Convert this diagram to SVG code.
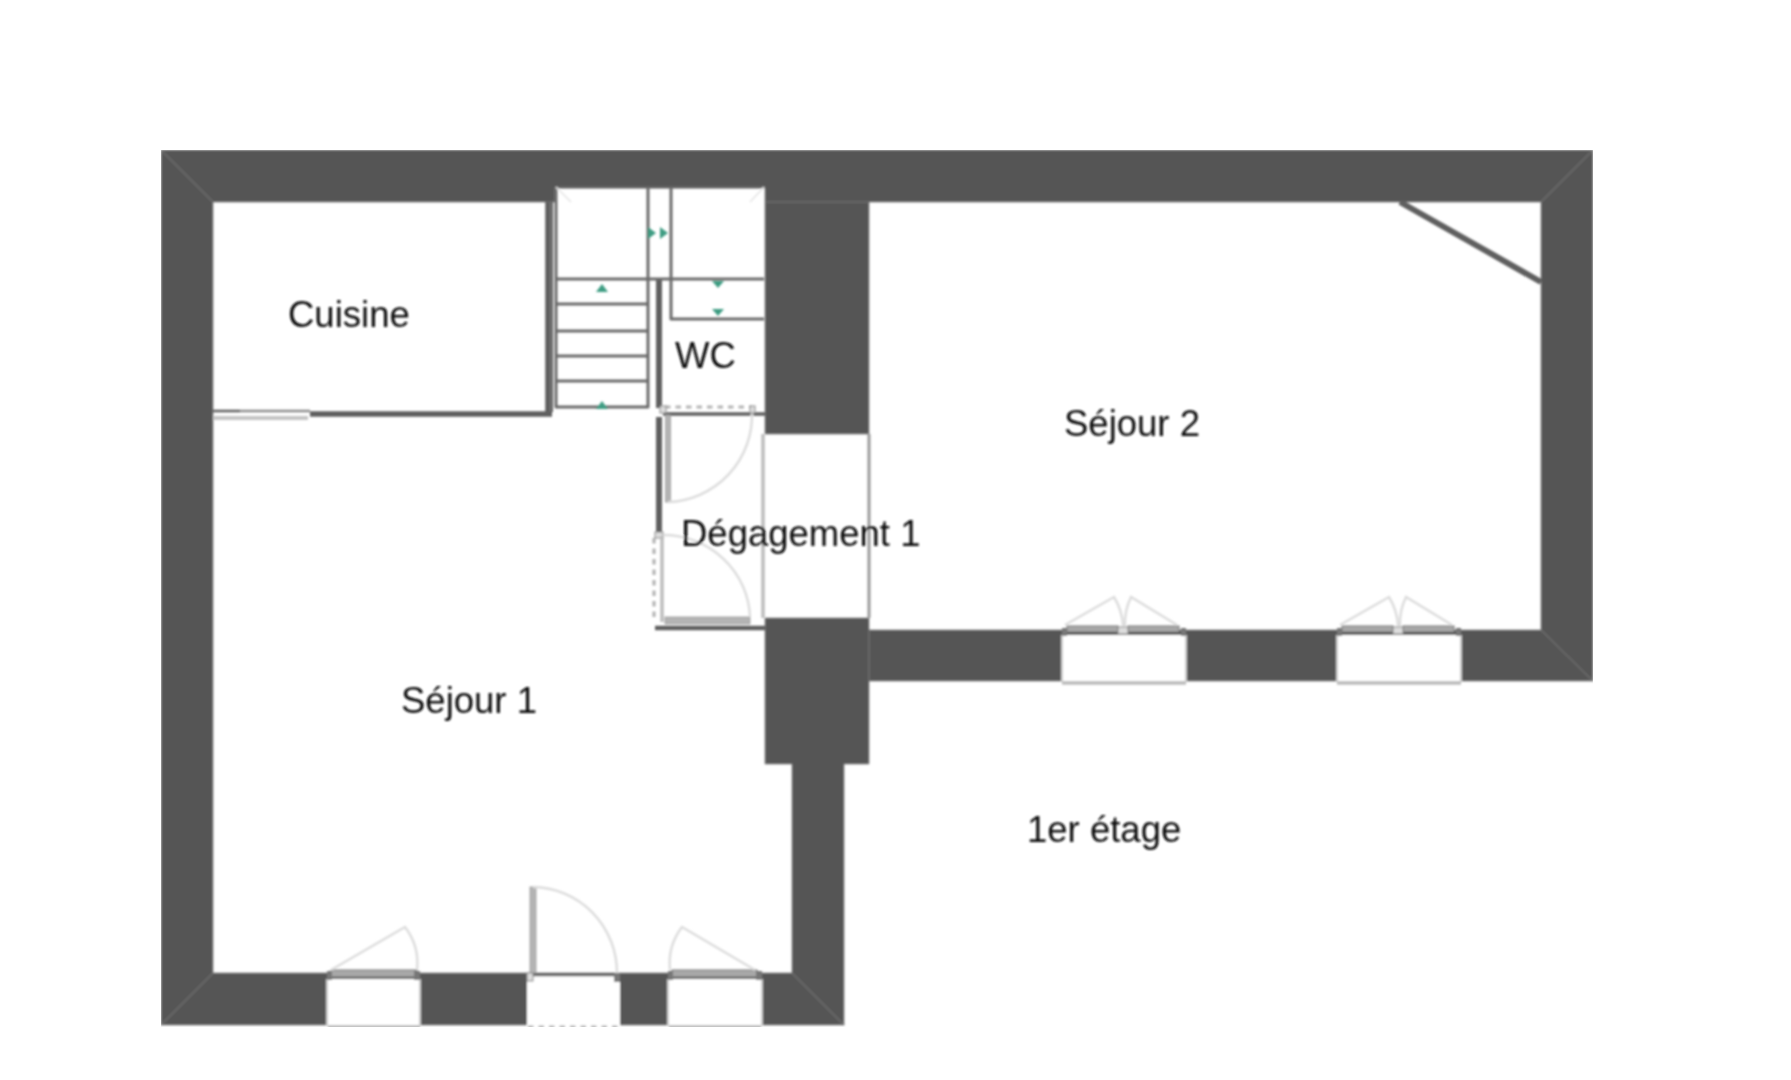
<svg xmlns="http://www.w3.org/2000/svg" width="1791" height="1080" viewBox="0 0 1791 1080">
<style>
text{font-family:"Liberation Sans",Arial,sans-serif;font-size:36.5px;fill:#111}
.wall{fill:#555;fill-rule:evenodd;stroke:#8a8a8a;stroke-width:.8}
.mit{stroke:#6c6c6c;stroke-width:1.6;fill:none}
.open{fill:#fff;stroke:none}
.sill{fill:#a8a8a8;stroke:#777;stroke-width:1}
.arc{fill:none;stroke:#dcdcdc;stroke-width:2.4}
.leaf{fill:#b4b4b4;stroke:#999;stroke-width:.8}
.lt{stroke:#bcbcbc;stroke-width:3.5;fill:none}
.dot{stroke:#b4b4b4;stroke-width:3.2;stroke-dasharray:5.5 5;fill:none}
.st{stroke:#6a6a6a;stroke-width:3;fill:none;stroke-linejoin:round}
.dk{stroke:#5e5e5e;fill:none}
.jt{fill:#ddd;stroke:#888;stroke-width:1}
.ar{fill:#3c9c82}
</style>
<defs><filter id="soft" x="0" y="0" width="100%" height="100%"><feGaussianBlur stdDeviation="0.8"/></filter></defs>
<rect width="1791" height="1080" fill="#fff"/>
<g filter="url(#soft)">
<g id="walls">
<path class="wall" d="M161 150H1593V681H869V764H844V1025H161ZM213 202V973H792V764H765V618H869V630H1541V202H869V434H765V187H555V202Z"/>
<path class="mit" d="M161 150L213 202M1593 150L1541 202M161 1025L213 973M1593 681L1541 630M844 1025L792 973M765 202H869M869 630V681"/>
</g>
<g id="partitions">
<path class="dk" stroke-width="5.5" d="M310 414H552M548 202V416"/>
<path class="dk" stroke-width="2.5" d="M213 411H240"/>
<path stroke="#8c8c8c" stroke-width="2.5" d="M240 411H310"/>
<path class="dk" stroke-width="2" d="M552 200V412"/>
<path stroke="#c4c4c4" stroke-width="4" d="M213 418H308"/>
<path class="dk" stroke-width="6" d="M659 279V408M659 417V533"/>
<path class="dk" stroke-width="3.5" d="M663 414H765"/>
<path class="dk" stroke-width="4.5" d="M655 628H765"/>
<path class="dk" stroke-width="3" d="M555 187H765" />
</g>
<g id="stairs">
<path class="st" d="M556 187V407H648V187M671 187V319H764M556 279H764M556 304H648M556 331H648M556 356H648M556 381H648"/>
<path stroke="#e4e4e4" stroke-width="1.5" d="M556 187L571 202M764 187L750 202"/>
<path class="ar" d="M648 227L656 233L648 239ZM660 227L668 233L660 239ZM596 292L602 284L608 292ZM596 409L602 401L608 409ZM712 281H724L718 288ZM712 309H724L718 316Z"/>
</g>
<g id="passage">
<path class="lt" d="M763 434V618"/>
<path stroke="#999" stroke-width="3" d="M869 434V618"/>
</g>
<g id="doors">
<path class="dot" d="M665 407H752M654 538V622"/>
<rect class="leaf" x="665.5" y="415" width="5" height="87"/>
<path class="arc" d="M668 502A87 87 0 0 0 752 412"/>
<rect class="jt" x="750" y="406" width="5" height="7"/>
<rect class="jt" x="660" y="406" width="6" height="7"/>
<rect class="jt" x="655" y="532" width="8" height="6"/>
<path class="lt" d="M662 536V622"/>
<rect class="leaf" x="665" y="617" width="85" height="7"/>
<path class="arc" d="M663 535A87 85 0 0 1 750 617"/>
<rect class="open" x="527" y="974" width="93" height="52"/>
<rect class="leaf" x="530" y="887" width="6" height="86"/>
<path class="arc" d="M533 887A85 86 0 0 1 617 973"/>
<path class="dk" stroke-width="2.5" d="M530 975H617"/>
<path class="dot" d="M528 1027H618"/>
<rect class="jt" x="527" y="973" width="6" height="8" fill="#777"/>
<rect x="614" y="973" width="6" height="9" fill="#777"/>
</g>
<g id="windows">
<g id="w1">
<rect class="open" x="327" y="979" width="93" height="46"/>
<path stroke="#c8c8c8" stroke-width="2" d="M327 979V1026M420 979V1026"/>
<path class="lt" d="M328 1027H420"/>
<rect class="sill" x="331" y="970" width="86" height="7"/>
<rect x="327" y="971" width="5" height="9" fill="#777"/><rect x="414" y="971" width="6" height="9" fill="#777"/>
<path class="arc" d="M331 970L405 927A60 60 0 0 1 417 970"/>
</g>
<g id="w2">
<rect class="open" x="668" y="979" width="94" height="46"/>
<path stroke="#c8c8c8" stroke-width="2" d="M668 979V1026M762 979V1026"/>
<path class="lt" d="M669 1027H761"/>
<rect class="sill" x="672" y="970" width="85" height="7"/>
<rect x="668" y="971" width="5" height="9" fill="#777"/><rect x="756" y="971" width="6" height="9" fill="#777"/>
<path class="arc" d="M755 970L682 927A60 60 0 0 0 670 970"/>
</g>
<g id="w3">
<rect class="open" x="1062" y="635" width="124" height="46"/>
<path stroke="#c8c8c8" stroke-width="2" d="M1062 635V682M1186 635V682"/>
<path class="lt" d="M1062 683H1186"/>
<rect class="sill" x="1067" y="626" width="51" height="6"/><rect class="sill" x="1128" y="626" width="51" height="6"/>
<rect class="jt" x="1118" y="627" width="10" height="7"/>
<rect x="1062" y="628" width="5" height="8" fill="#777"/><rect x="1181" y="628" width="5" height="8" fill="#777"/>
<path class="arc" d="M1065 625L1114 597A60 60 0 0 1 1123 626M1125 626A60 60 0 0 1 1131 597L1177 625"/>
</g>
<g id="w4">
<rect class="open" x="1337" y="635" width="124" height="46"/>
<path stroke="#c8c8c8" stroke-width="2" d="M1337 635V682M1461 635V682"/>
<path class="lt" d="M1337 683H1461"/>
<rect class="sill" x="1342" y="626" width="51" height="6"/><rect class="sill" x="1403" y="626" width="51" height="6"/>
<rect class="jt" x="1393" y="627" width="10" height="7"/>
<rect x="1337" y="628" width="5" height="8" fill="#777"/><rect x="1456" y="628" width="5" height="8" fill="#777"/>
<path class="arc" d="M1340 625L1389 597A60 60 0 0 1 1398 626M1400 626A60 60 0 0 1 1406 597L1452 625"/>
</g>
</g>
<path id="diagonal" stroke="#5e5e5e" stroke-width="6" d="M1400 202L1541 282"/>
<g id="labels">
<text x="288" y="327">Cuisine</text>
<text x="675" y="368">WC</text>
<text x="1064" y="436">Séjour 2</text>
<text x="681" y="545.5">Dégagement 1</text>
<text x="401" y="713">Séjour 1</text>
<text x="1027" y="842">1er étage</text>
</g>
</g>
</svg>
